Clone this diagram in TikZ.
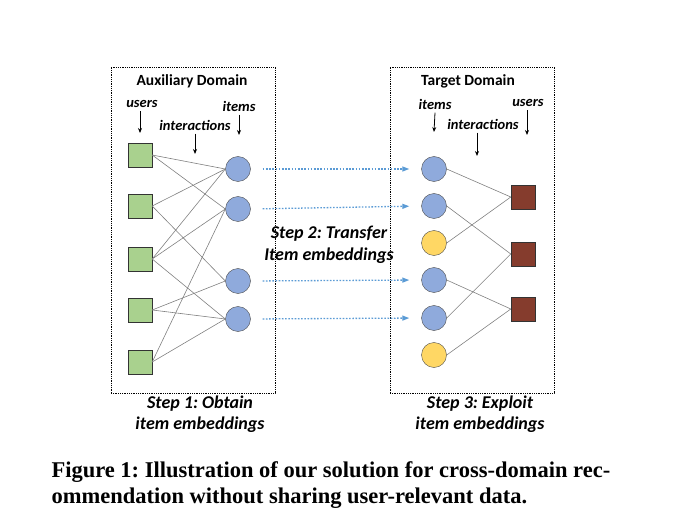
\documentclass[tikz,border=0pt]{standalone}
\usepackage{fontspec}
\setmainfont{Carlito}
\newfontfamily\capfont{Liberation Serif}
\usetikzlibrary{arrows.meta}
\frenchspacing
\definecolor{usergreen}{RGB}{169,209,142}
\definecolor{itemblue}{RGB}{143,170,220}
\definecolor{itemyellow}{RGB}{255,215,100}
\definecolor{userbrown}{RGB}{133,60,45}
\definecolor{transferblue}{RGB}{91,155,213}
\tikzset{%
  domainbox/.style = {draw, densely dotted, thick, minimum width=164pt, minimum height=326pt},%
  userbox/.style   = {rectangle, draw=black!80, minimum size=24pt, inner sep=0pt},%
  itemdot/.style   = {circle, draw=black!70, minimum size=25pt, inner sep=0pt},%
  aux/.style       = {userbox, fill=usergreen},%
  tgt/.style       = {userbox, fill=userbrown},%
  known/.style     = {itemdot, fill=itemblue},%
  fresh/.style     = {itemdot, fill=itemyellow},%
  link/.style      = {draw=black!50, line width=0.6pt},%
  pointer/.style   = {-{Stealth[length=5pt,width=4pt]}, line width=0.8pt},%
  transfer/.style  = {-{Triangle[length=7pt,width=5pt]}, transferblue, dash pattern=on 1.6pt off 1.6pt,%
                      line width=1.3pt, shorten <=12pt, shorten >=12pt},%
  title/.style     = {font=\fontsize{15.5}{17}\selectfont\bfseries},%
  role/.style      = {font=\fontsize{14.5}{17}\selectfont\bfseries\itshape}%
}
\begin{document}
\begin{tikzpicture}[x=1pt, y=-1pt, every node/.style = {font=\fontsize{18}{21.5}\selectfont\bfseries\itshape, align=center}]%
	\useasboundingbox (0,0) rectangle (686,532);%
	% auxiliary domain
	\node[domainbox] (auxbox) at (193,230) {};%
	\node[title] (auxtitle) at (192,81) {Auxiliary Domain};%
	\node[role] (auxusers) at (142,104) {users};%
	\node[role] (auxitems) at (239,106) {items};%
	\node[role] (auxinter) at (195,125) {interactions};%
	\foreach \i/\y in {1/155,2/206,3/259,4/310,5/362}
		\node[aux] (u\i) at (140,\y) {};%
	\foreach \i/\y in {1/169,2/209,3/281,4/319}
		\node[known] (a\i) at (238,\y) {};%
	\foreach \u/\a in {1/1,1/2,2/1,2/3,3/1,3/2,3/4,4/3,4/4,5/2,5/4}
		\draw[link] (u\u.east) -- (a\a.west);%
	\coordinate (auxinterend) at (195,154);%
	\draw[pointer] (auxusers.south -| u1) -- (u1.north |- 0,133);%
	\draw[pointer] (auxitems.south -| 239,0) -- (239,135);%
	\draw[pointer] (auxinter.south) -- (auxinterend);%
	\node (step1) at (200,414) {Step 1: Obtain\\item embeddings};%
	% target domain
	\node[domainbox] (tgtbox) at (472,230) {};%
	\node[title] (tgttitle) at (468,81) {Target Domain};%
	\node[role] (tgtitems) at (435,104) {items};%
	\node[role] (tgtusers) at (528,103) {users};%
	\node[role] (tgtinter) at (483,124) {interactions};%
	\node[known] (t1) at (434,169) {};%
	\node[known] (t2) at (434,206) {};%
	\node[fresh] (t3) at (434,243) {};%
	\node[known] (t4) at (434,280) {};%
	\node[known] (t5) at (434,318) {};%
	\node[fresh] (t6) at (434,355) {};%
	\foreach \i/\y in {1/197,2/254,3/309}
		\node[tgt] (v\i) at (523,\y) {};%
	\foreach \t/\v in {1/1,2/2,3/1,4/3,5/2,6/3}
		\draw[link] (t\t.east) -- (v\v.west);%
	\coordinate (tgtinterend) at (477,156);%
	\draw[pointer] (tgtitems.south) -- (434,132);%
	\draw[pointer] (tgtusers.south -| 527,0) -- (527,135);%
	\draw[pointer] (tgtinter.south -| tgtinterend) -- (tgtinterend);%
	\node (step3) at (480,414) {Step 3: Exploit\\item embeddings};%
	% transfer
	\foreach \a/\t in {1/1,2/2,3/4,4/5}
		\draw[transfer] (a\a.east) -- (t\t.west);%
	\node (step2) at (329,245) {Step 2: Transfer\\Item embeddings};%
	% caption
	\node[anchor=base west, font=\capfont\fontsize{22.5}{27}\selectfont\bfseries, align=left] (caption) at (48,477)%
		{Figure 1: Illustration of our solution for cross-domain rec-};%
	\node[anchor=base west, font=\capfont\fontsize{22.5}{27}\selectfont\bfseries, align=left] (caption2) at (48,503)%
		{ommendation without sharing user-relevant data.};%
\end{tikzpicture}
\end{document}
